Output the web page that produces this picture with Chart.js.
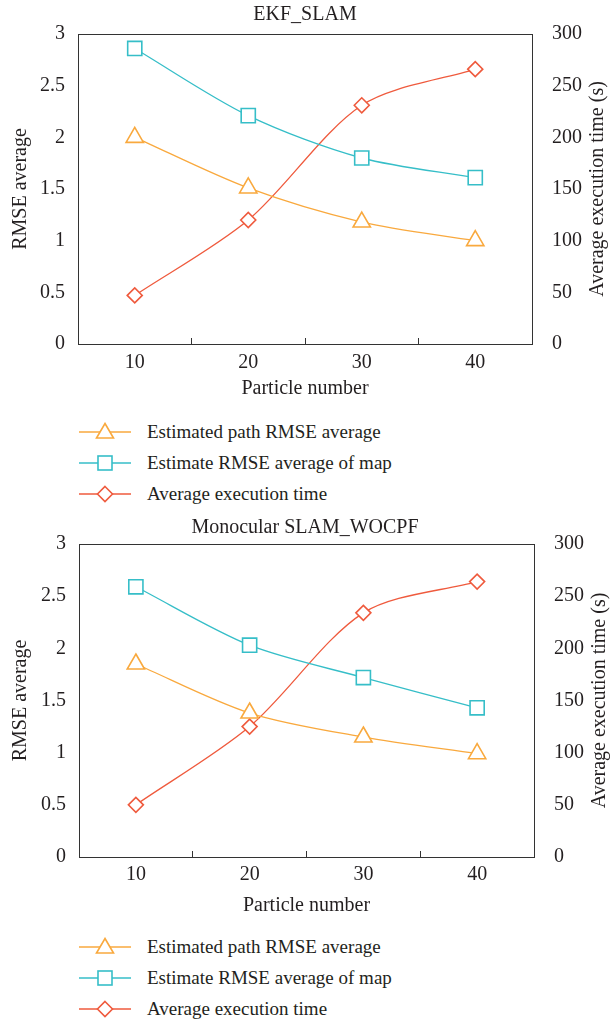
<!DOCTYPE html>
<html>
<head>
<meta charset="utf-8">
<script src="https://cdn.jsdelivr.net/npm/chart.js@4/dist/chart.umd.min.js"></script>
<style>
body{margin:0;width:610px;height:1023px;background:#fff;position:relative;overflow:hidden;
  font-family:"Liberation Serif","DejaVu Serif",serif;color:#231f20}
.box{position:absolute;left:0;width:610px}
.legend{position:absolute;left:79px;font-size:19px}
.legend div{height:31px;display:flex;align-items:center}
.legend svg{margin-right:16px}
</style>
</head>
<body>
<div class="box" style="top:0;height:405px"><canvas id="c1"></canvas></div>
<div class="legend" id="l1" style="top:416px"></div>
<div class="box" style="top:510px;height:412px"><canvas id="c2"></canvas></div>
<div class="legend" id="l2" style="top:931px"></div>
<script>
let particles = ['10', '20', '30', '40'];

let ekfPathRmse = [2.0, 1.51, 1.18, 1.0];
let ekfMapRmse = [2.86, 2.21, 1.80, 1.61];
let ekfTime = [47, 120, 231, 266];

let monoPathRmse = [1.85, 1.38, 1.15, 0.99];
let monoMapRmse = [2.59, 2.03, 1.72, 1.43];
let monoTime = [50, 125, 234, 264];

let names = ['Estimated path RMSE average', 'Estimate RMSE average of map', 'Average execution time'];
let colors = ['#f9a93e', '#36bec8', '#ef5a3d'];
let font = '"Liberation Serif", "DejaVu Serif", serif';
let ink = '#231f20';

// box round the plot + right title read bottom to top
const framePlugin = {
    id: 'frame',
    afterDraw(chart, args, opts) {
        const {ctx, chartArea: a} = chart;
        ctx.save();
        ctx.strokeStyle = '#333';
        ctx.lineWidth = 1;
        ctx.beginPath();
        ctx.moveTo(a.left, Math.round(a.top) + 0.5);
        ctx.lineTo(a.right, Math.round(a.top) + 0.5);
        ctx.stroke();
        ctx.translate(chart.width - opts.rightTitleOffset, (a.top + a.bottom) / 2);
        ctx.rotate(-Math.PI / 2);
        ctx.fillStyle = ink;
        ctx.font = '20px ' + font;
        ctx.textAlign = 'center';
        ctx.textBaseline = 'middle';
        ctx.fillText('Average execution time (s)', 0, 0);
        ctx.restore();
    }
};

function makeChart(id, title, path, map, time, lay) {
    const ds = (label, data, i, axis, style, r) => ({
        label: label,
        data: data,
        yAxisID: axis,
        borderColor: colors[i],
        borderWidth: 1.3,
        tension: 0.3,
        pointStyle: style,
        pointRadius: r,
        pointHoverRadius: r,
        pointBorderWidth: 1.6,
        pointBackgroundColor: '#fff',
        pointBorderColor: colors[i],
    });
    new Chart(document.getElementById(id), {
        type: 'line',
        data: {
            labels: particles,
            datasets: [
                ds(names[0], path, 0, 'y', 'triangle', 10),
                ds(names[1], map, 1, 'y', 'rect', 10),
                ds(names[2], time, 2, 'y1', 'rectRot', 7.5),
            ]
        },
        options: {
            responsive: true,
            maintainAspectRatio: false,
            animation: false,
            layout: {padding: 0},
            plugins: {
                legend: {display: false},
                tooltip: {enabled: false},
                title: {
                    display: true,
                    text: title,
                    color: ink,
                    font: {family: font, size: 20, weight: 'normal', lineHeight: 1.2},
                    padding: lay.titlePad,
                },
                frame: {rightTitleOffset: lay.rightTitle},
            },
            scales: {
                x: {
                    type: 'category',
                    offset: true,
                    grid: {drawOnChartArea: false, offset: true, tickLength: -6, color: '#333'},
                    border: {color: '#333', width: 1},
                    ticks: {color: ink, font: {family: font, size: 20, lineHeight: 1.2}, padding: lay.xTickPad},
                    title: {display: true, text: 'Particle number', color: ink,
                        font: {family: font, size: 20, lineHeight: 1.2}, padding: {top: 0, bottom: lay.xTitlePad}},
                    afterFit: s => { s.height = lay.xHeight; },
                },
                y: {
                    position: 'left',
                    min: 0, max: 3,
                    grid: {display: false},
                    border: {color: '#333', width: 1},
                    ticks: {stepSize: 0.5, color: ink, padding: 5, callback: v => String(v),
                        font: {family: font, size: 20, lineHeight: 1.2}},
                    title: {display: true, text: 'RMSE average', color: ink,
                        font: {family: font, size: 20, lineHeight: 1.2}, padding: {top: 9, bottom: 0}},
                    afterFit: s => { s.width = lay.left; },
                },
                y1: {
                    position: 'right',
                    min: 0, max: 300,
                    grid: {display: false},
                    border: {color: '#333', width: 1},
                    ticks: {stepSize: 50, color: ink, padding: 12, font: {family: font, size: 20, lineHeight: 1.2}},
                    afterFit: s => { s.width = lay.right; },
                },
            }
        },
        plugins: [framePlugin]
    });
}

function makeLegend(id) {
    const icons = [
        '<polygon points="26,1.5 34.5,16 17.5,16" />',
        '<rect x="19" y="3" width="14" height="14" />',
        '<polygon points="26,2.5 33.5,10 26,17.5 18.5,10" />',
    ];
    document.getElementById(id).innerHTML = names.map((n, i) =>
        `<div><svg width="52" height="20"><line x1="0" y1="10" x2="52" y2="10" stroke="${colors[i]}" stroke-width="1.3"/>` +
        `<g fill="#fff" stroke="${colors[i]}" stroke-width="1.6">${icons[i]}</g></svg><span>${n}</span></div>`
    ).join('');
}

makeChart('c1', 'EKF_SLAM', ekfPathRmse, ekfMapRmse, ekfTime,
    {titlePad: {top: 3, bottom: 7}, xHeight: 61, xTickPad: 13, xTitlePad: 4, left: 78, right: 78, rightTitle: 12});
makeChart('c2', 'Monocular SLAM_WOCPF', monoPathRmse, monoMapRmse, monoTime,
    {titlePad: {top: 6, bottom: 4}, xHeight: 65, xTickPad: 12, xTitlePad: 4, left: 79, right: 76, rightTitle: 10});
makeLegend('l1');
makeLegend('l2');
</script>
</body>
</html>
